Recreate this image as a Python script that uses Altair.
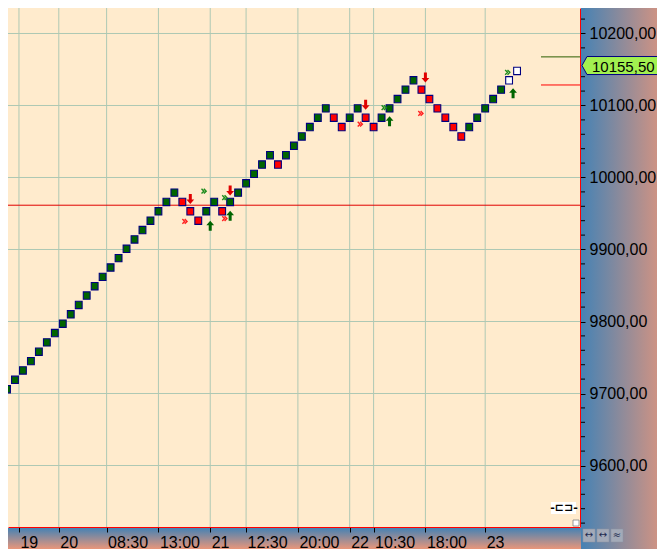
import altair as alt
import pandas as pd

# renko bricks, left to right: lower edge of each brick (13 points per brick)
brick_low = [
    9699.5, 9712.5, 9725.5, 9738.5, 9751.5, 9764.5, 9777.5, 9790.5, 9803.5, 9816.5,
    9829.5, 9842.5, 9855.5, 9868.5, 9881.5, 9894.5, 9907.5, 9920.5, 9933.5, 9946.5,
    9959.5, 9972.5, 9959.5, 9946.5, 9933.5, 9946.5, 9959.5, 9946.5, 9959.5, 9972.5,
    9985.5, 9998.5, 10011.5, 10024.5, 10011.5, 10024.5, 10037.5, 10050.5, 10063.5, 10076.5,
    10089.5, 10076.5, 10063.5, 10076.5, 10089.5, 10076.5, 10063.5, 10076.5, 10089.5, 10102.5,
    10115.5, 10128.5, 10115.5, 10102.5, 10089.5, 10076.5, 10063.5, 10050.5, 10063.5, 10076.5,
    10089.5, 10102.5, 10115.5, 10128.5, 10141.5,
]
brick_kind = (
    ["up"] * 22 + ["down"] * 3 + ["up"] * 2 + ["down"] + ["up"] * 6 + ["down"]
    + ["up"] * 6 + ["down"] * 2 + ["up"] * 2 + ["down"] * 2 + ["up"] * 5
    + ["down"] * 6 + ["up"] * 5 + ["open"] * 2
)
brick_size = 13

# signals
sell_x = [23, 28, 45, 52.5]
sell_y = [9970, 9982, 10101, 10139]
buy_x = [25.5, 28, 48, 63.5]
buy_y = [9933, 9947, 10078, 10117]
chev_red_x = [22.3, 27.3, 44.3, 51.9]
chev_red_y = [9939, 9943, 10074, 10089]
chev_green_x = [24.7, 27.3, 47.3, 62.8]
chev_green_y = [9981, 9972, 10097, 10146]

# levels
support_line = 9961.5
next_up = 10167.5
next_down = 10128.5
last_price = 10155.5

# axes
time_pos = [1.5, 6.5, 12.5, 19, 25.5, 30, 36.5, 43, 46, 52.5, 60]
time_text = ["19", "20", "08:30", "13:00", "21", "12:30", "20:00", "22", "10:30", "18:00", "23"]
price_major = [9600, 9700, 9800, 9900, 10000, 10100, 10200]
price_minor = [v for v in range(9520, 10221, 20) if v % 100 and abs(v - last_price) > 8]

FONT = "Liberation Sans"
GRID = "#AEC8B4"
BLUE = "#4682B4"
SALMON = "#E9967A"
W, H = 572, 519

x_scale = alt.Scale(domain=[0.753, 71.27], nice=False, zero=False)
y_scale = alt.Scale(domain=[9514.6, 10235.4], nice=False, zero=False)

labels = "[" + ",".join(f"'{t}'" for t in time_text) + "]"
positions = "[" + ",".join(str(p) for p in time_pos) + "]"

x_axis = alt.Axis(
    values=time_pos, labelExpr=f"{labels}[indexof({positions}, datum.value)]",
    grid=False, domainColor="#FF0000", domainWidth=1, tickColor="#000000", tickSize=5,
    labelColor="#000000", labelFont=FONT, labelFontSize=16, labelAlign="left",
    labelBaseline="alphabetic", labelPadding=15, labelOffset=1, labelOverlap=False,
    labelFlush=False, title=None, zindex=1,
)
y_axis = alt.Axis(
    orient="right", values=price_major,
    labelExpr="replace(format(datum.value, '.2f'), '.', ',')",
    grid=False, domainColor="#FF0000", domainWidth=1, tickColor="#000000", tickSize=5,
    labelColor="#000000", labelFont=FONT, labelFontSize=16, labelPadding=4,
    labelBaseline="middle", labelOverlap=False, labelFlush=False, title=None, zindex=1,
)

bricks = pd.DataFrame({"idx": range(len(brick_low)), "low": brick_low, "kind": brick_kind})
one = pd.DataFrame({"a": [0]})

# axis strips
right_strip = alt.Chart(one).mark_rect(
    color=alt.LinearGradient(gradient="linear", x1=0, x2=1, y1=0, y2=0,
                             stops=[alt.GradientStop(color=BLUE, offset=0),
                                    alt.GradientStop(color=SALMON, offset=1)])
).encode(x=alt.value(W + 1), x2=alt.value(W + 93), y=alt.value(0), y2=alt.value(H + 22))

bottom_strip = alt.Chart(one).mark_rect(
    color=alt.LinearGradient(gradient="linear", x1=0, x2=0, y1=0, y2=1,
                             stops=[alt.GradientStop(color=BLUE, offset=0),
                                    alt.GradientStop(color=SALMON, offset=1)])
).encode(x=alt.value(0), x2=alt.value(W + 1), y=alt.value(H + 1), y2=alt.value(H + 22))

buttons = [
    alt.Chart(one).mark_rect(color="#A3AAB8", stroke="#8C93A3", strokeWidth=0.5).encode(
        x=alt.value(left), x2=alt.value(left + 12), y=alt.value(H + 2), y2=alt.value(H + 15))
    for left in (575, 589, 603)
]
button_text = [
    alt.Chart(one).mark_text(text=g, font="DejaVu Sans", fontSize=10, color="#1E2A50").encode(
        x=alt.value(left + 6), y=alt.value(H + 8))
    for left, g in ((575, "↔"), (589, "↔"), (603, "≈"))
]

# grid (these two layers carry the axes; the other layers leave theirs unset)
vgrid = alt.Chart(pd.DataFrame({"pos": time_pos})).mark_rule(color=GRID, strokeWidth=1).encode(
    x=alt.X("pos:Q", scale=x_scale, axis=x_axis))
hgrid = alt.Chart(pd.DataFrame({"p": price_major})).mark_rule(color=GRID, strokeWidth=1).encode(
    y=alt.Y("p:Q", scale=y_scale, axis=y_axis))

# minor ticks of the price axis
minor = alt.Chart(pd.DataFrame({"p": price_minor})).mark_rule(color="#000000", strokeWidth=1).encode(
    y=alt.Y("p:Q", scale=y_scale), x=alt.value(W + 1), x2=alt.value(W + 5))

level_line = alt.Chart(pd.DataFrame({"p": [support_line]})).mark_rule(
    color="#E00000", strokeWidth=1).encode(y=alt.Y("p:Q", scale=y_scale))

thresholds = alt.Chart(pd.DataFrame({"p": [next_up, next_down], "c": ["up", "down"]})).mark_rule(
    strokeWidth=1).encode(
    y=alt.Y("p:Q", scale=y_scale), x=alt.value(533), x2=alt.value(W),
    color=alt.Color("c:N", scale=alt.Scale(domain=["up", "down"], range=["#2C5E00", "#FF0000"]),
                    legend=None))

brick_layer = alt.Chart(bricks).mark_bar(
    width=6.8, stroke="#000080", strokeWidth=1.1, clip=True
).encode(
    x=alt.X("idx:Q", scale=x_scale),
    y=alt.Y("lo:Q", scale=y_scale),
    y2="hi:Q",
    fill=alt.Fill("kind:N", scale=alt.Scale(domain=["up", "down", "open"],
                                           range=["#006400", "#FF0000", "#FFFFFF"]), legend=None),
).transform_calculate(lo="datum.low + 1.4", hi=f"datum.low + {brick_size} - 1.4")

UP = "M-0.3,1 L0.3,1 L0.3,-0.1 L0.78,-0.1 L0,-1 L-0.78,-0.1 L-0.3,-0.1 Z"
DOWN = "M-0.3,-1 L0.3,-1 L0.3,0.1 L0.78,0.1 L0,1 L-0.78,0.1 L-0.3,0.1 Z"
CHEV = "M-1,-1 L0,0 L-1,1 M0,-1 L1,0 L0,1"

sell = alt.Chart(pd.DataFrame({"x": sell_x, "y": sell_y})).mark_point(
    shape=DOWN, filled=True, size=100, color="#E00000", opacity=1).encode(
    x=alt.X("x:Q", scale=x_scale), y=alt.Y("y:Q", scale=y_scale))
buy = alt.Chart(pd.DataFrame({"x": buy_x, "y": buy_y})).mark_point(
    shape=UP, filled=True, size=100, color="#006400", opacity=1).encode(
    x=alt.X("x:Q", scale=x_scale), y=alt.Y("y:Q", scale=y_scale))
chev_r = alt.Chart(pd.DataFrame({"x": chev_red_x, "y": chev_red_y})).mark_point(
    shape=CHEV, filled=False, size=22, strokeWidth=1.4, color="#FF2020", opacity=1).encode(
    x=alt.X("x:Q", scale=x_scale), y=alt.Y("y:Q", scale=y_scale))
chev_g = alt.Chart(pd.DataFrame({"x": chev_green_x, "y": chev_green_y})).mark_point(
    shape=CHEV, filled=False, size=22, strokeWidth=1.4, color="#1E8C1E", opacity=1).encode(
    x=alt.X("x:Q", scale=x_scale), y=alt.Y("y:Q", scale=y_scale))

# last price tag on the price axis
TAG = "M-1,0 L-0.88,-0.217 L1,-0.217 L1,0.217 L-0.88,0.217 Z"
tag_df = pd.DataFrame({"p": [last_price], "t": [f"{last_price:.2f}".replace(".", ",")]})
tag = alt.Chart(tag_df).mark_point(
    shape=TAG, filled=True, fill="#A2F050", stroke="#000080", strokeWidth=1, size=6889, opacity=1
).encode(x=alt.value(615.5), y=alt.Y("p:Q", scale=y_scale))
tag_text = alt.Chart(tag_df).mark_text(
    align="left", baseline="middle", font=FONT, fontSize=15, color="#000000", dy=1
).encode(x=alt.value(584), y=alt.Y("p:Q", scale=y_scale), text="t:N")

# small chart-corner widgets
plug_box = alt.Chart(one).mark_rect(color="#FFFFFF").encode(
    x=alt.value(543), x2=alt.value(568), y=alt.value(494), y2=alt.value(506))
plug = alt.Chart(one).mark_text(
    text="-⊏⊐-", font="DejaVu Sans", fontSize=11, fontWeight="bold", color="#000000"
).encode(x=alt.value(556), y=alt.value(500))
corner = alt.Chart(one).mark_rect(color="#FFFFFF", stroke="#808080", strokeWidth=0.8).encode(
    x=alt.value(W - 7), x2=alt.value(W - 1), y=alt.value(H - 7), y2=alt.value(H - 1))

chart = alt.layer(
    right_strip, bottom_strip, *buttons, *button_text, vgrid, hgrid, minor, level_line,
    thresholds, brick_layer, sell, buy, chev_r, chev_g, tag, tag_text, plug_box, plug, corner,
).properties(
    width=W, height=H, background="#FFFFFF",
    autosize=alt.AutoSizeParams(type="none"),
    padding={"left": 0, "top": 0, "right": 77, "bottom": 22},
).configure_view(
    fill="#FFEBCD", strokeWidth=0
)

chart.save("out.html", embed_options={"renderer": "svg", "actions": False})
